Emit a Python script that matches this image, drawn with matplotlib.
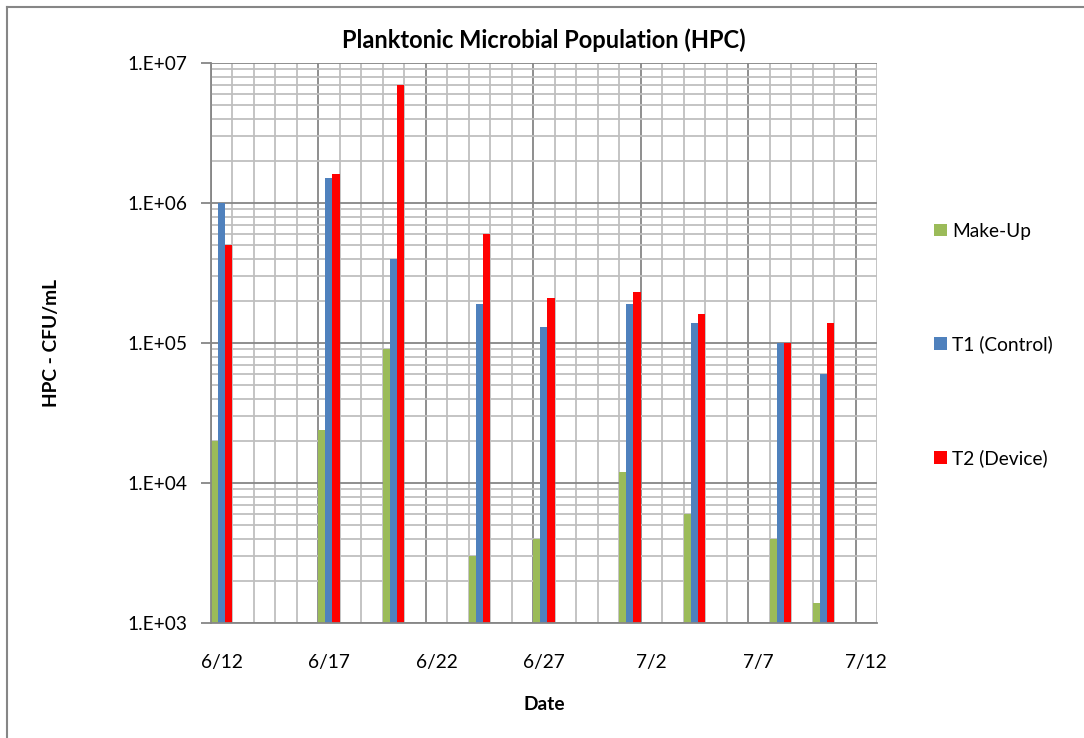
import datetime as dt
import matplotlib
matplotlib.use("Agg")
import matplotlib.pyplot as plt
import matplotlib.dates as mdates
from matplotlib.lines import Line2D
from matplotlib.ticker import LogLocator, NullFormatter, FixedLocator

plt.rcParams['font.family'] = ['Lato', 'DejaVu Sans']

# sample dates and HPC counts (CFU/mL)
dates = ["2012-06-12", "2012-06-17", "2012-06-20", "2012-06-24", "2012-06-27",
         "2012-07-01", "2012-07-04", "2012-07-08", "2012-07-10"]
make_up = [2.0e4, 2.4e4, 9.0e4, 3.0e3, 4.0e3, 1.2e4, 6.0e3, 4.0e3, 1.4e3]
t1_control = [1.0e6, 1.5e6, 4.0e5, 1.9e5, 1.3e5, 1.9e5, 1.4e5, 1.0e5, 6.0e4]
t2_device = [5.0e5, 1.6e6, 7.0e6, 6.0e5, 2.1e5, 2.3e5, 1.6e5, 1.0e5, 1.4e5]
series = [("Make-Up", make_up, "#9BBB59"),
          ("T1 (Control)", t1_control, "#4F81BD"),
          ("T2 (Device)", t2_device, "#FF0000")]

start = dt.date(2012, 6, 12)
n_days = 31
light = "#BFBFBF"
dark = "#868686"

fig = plt.figure(figsize=(10.84, 7.38), dpi=100)
ax = fig.add_axes([210.7 / 1084, 115 / 738, (877 - 210.7) / 1084, 560 / 738])

x0 = mdates.date2num(start)
xs = [mdates.date2num(dt.date.fromisoformat(d)) for d in dates]
w = 1 / 3
for i, (name, vals, col) in enumerate(series):
    ax.bar([x + i * w for x in xs], vals, width=w, align="edge", color=col,
           label=name, zorder=3)

ax.set_yscale("log")
ax.set_ylim(1e3, 1e7)
ax.set_xlim(x0, x0 + n_days)

# daily vertical grid, darker every 5 days
for d in range(n_days + 1):
    ax.axvline(x0 + d, color=dark if d % 5 == 0 else light, lw=1.3, zorder=1)

ax.yaxis.set_minor_locator(LogLocator(base=10, subs=range(2, 10)))
ax.yaxis.set_minor_formatter(NullFormatter())
ax.grid(which="major", axis="y", color=dark, lw=1.3, zorder=1)
ax.grid(which="minor", axis="y", color=light, lw=1.3, zorder=1)
ax.set_yticks([1e3, 1e4, 1e5, 1e6, 1e7])
ax.set_yticklabels(["1.E+03", "1.E+04", "1.E+05", "1.E+06", "1.E+07"])
ax.tick_params(axis="y", which="major", length=7, width=1.3, color=dark,
               labelsize=13.8, pad=10)
ax.tick_params(axis="y", which="minor", length=0)

label_days = list(range(0, n_days, 5))
ax.xaxis.set_major_locator(FixedLocator([x0 + d + 0.5 for d in label_days]))
ax.set_xticklabels([f"{(start + dt.timedelta(days=d)).month}/{(start + dt.timedelta(days=d)).day}"
                    for d in label_days])
ax.tick_params(axis="x", length=0, labelsize=13.8, pad=22)

for s in ["top", "right"]:
    ax.spines[s].set_visible(False)
for s in ["left", "bottom"]:
    ax.spines[s].set_color(dark)
    ax.spines[s].set_linewidth(1.3)
    ax.spines[s].set_zorder(4)

ax.set_title("Planktonic Microbial Population (HPC)", fontsize=17,
             fontweight="bold", pad=11)
ax.set_xlabel("Date", fontsize=13.8, fontweight="bold", labelpad=18)
ax.set_ylabel("HPC - CFU/mL", fontsize=13.8, fontweight="bold", labelpad=48)

fig.legend(loc="center left", bbox_to_anchor=(917 / 1084, (738 - 345) / 738),
           frameon=False, fontsize=13.8, handlelength=0.65, handleheight=0.65,
           handletextpad=0.3, labelspacing=5.0)

# outer chart border
fig.add_artist(Line2D([7 / 1084, 1], [1 - 6.5 / 738, 1 - 6.5 / 738],
                      transform=fig.transFigure, color=dark, lw=1.5))
fig.add_artist(Line2D([7 / 1084, 7 / 1084], [0, 1 - 6.5 / 738],
                      transform=fig.transFigure, color=dark, lw=1.5))

fig.savefig("out.png", dpi=100)
